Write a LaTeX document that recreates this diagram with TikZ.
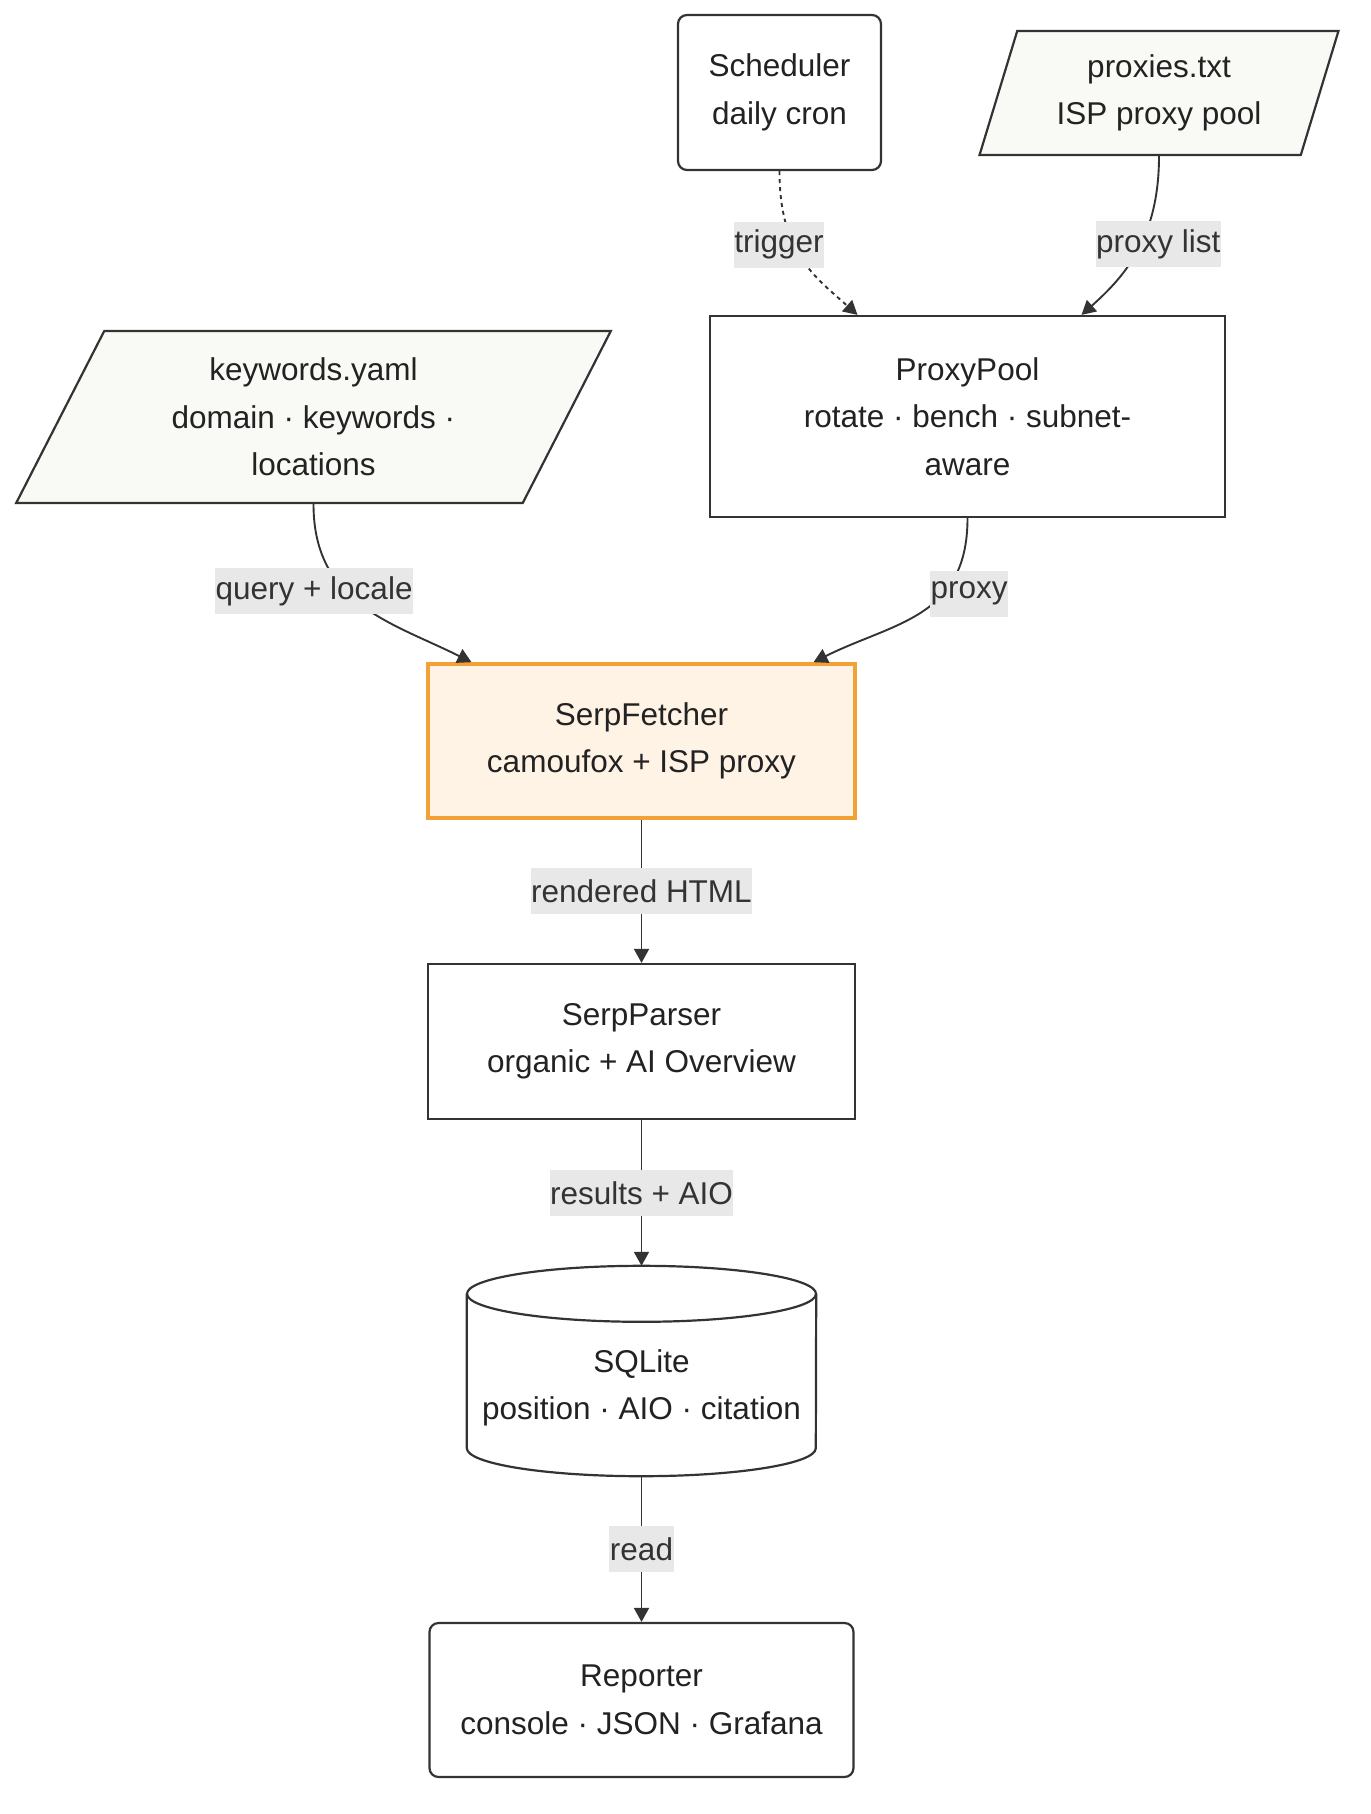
\documentclass[tikz,border=0pt]{standalone}
\usepackage{fontspec}
\setmainfont{Liberation Sans}
\usepackage{xcolor}
\usepackage{tikz}
\usetikzlibrary{arrows.meta,shapes.geometric,positioning}
\definecolor{edgegray}{HTML}{333333}
\definecolor{nodetext}{HTML}{222222}
\definecolor{databg}{HTML}{F9F9F5}
\definecolor{fetchbg}{HTML}{FFF3E5}
\definecolor{fetchline}{HTML}{F2A234}
\definecolor{lblbg}{HTML}{E8E8E8}

\begin{document}
\begin{tikzpicture}[x=1pt,y=1pt,>={Triangle[length=14pt,width=15pt]},
    every node/.style={font=\fontsize{31.5}{47.5}\selectfont,text=nodetext,align=center},
    proc/.style={draw=edgegray,line width=2.2pt,fill=white,inner sep=0pt},
    iofile/.style={trapezium,trapezium stretches=true,draw=edgegray,line width=2.2pt,fill=databg,inner sep=0pt},
    flow/.style={->,draw=edgegray,line width=1.9pt},
    lbl/.style={fill=lblbg,text=edgegray,inner xsep=0.5pt,inner ysep=0pt,minimum height=46pt}]
      \useasboundingbox (0,0) rectangle (1370,-1814);
      % sources
      \node[proc,rounded corners=9pt,minimum width=203pt,minimum height=155pt] (sched) at (779.5,-92.5) {Scheduler\\daily cron};
      \node[iofile,trapezium left angle=70.5,trapezium right angle=109.5,minimum width=360pt,minimum height=124pt] (plist) at (1159,-93) {proxies.txt\\ISP proxy pool};
      \node[proc,minimum width=515pt,minimum height=201pt] (pool) at (967.5,-416.5) {ProxyPool\\rotate · bench · subnet-\\aware};
      \node[iofile,trapezium left angle=63.2,trapezium right angle=116.8,minimum width=597pt,minimum height=172pt] (kw) at (313.5,-417) {keywords.yaml\\domain · keywords ·\\locations};
      % pipeline
      \node[proc,draw=fetchline,fill=fetchbg,line width=3.6pt,minimum width=427pt,minimum height=154pt] (fetch) at (641.5,-741) {SerpFetcher\\camoufox + ISP proxy};
      \node[proc,minimum width=427pt,minimum height=155pt] (parser) at (641.5,-1041.5) {SerpParser\\organic + AI Overview};
      \node[inner sep=0pt,minimum width=349pt,minimum height=210pt] (db) at (641.5,-1371) {};
      \draw[proc] ([yshift=-28pt]db.north west) -- ([yshift=28pt]db.south west)
        arc[start angle=180,end angle=360,x radius=174.5pt,y radius=28pt] -- ([yshift=-28pt]db.north east);
      \draw[proc] ([yshift=-28pt]db.north) ellipse[x radius=174.5pt,y radius=28pt];
      \node (dbtext) at ([yshift=-17pt]db.center) {SQLite\\position · AIO · citation};
      \node[proc,rounded corners=9pt,minimum width=424pt,minimum height=154pt] (report) at (641.5,-1700) {Reporter\\console · JSON · Grafana};
      % edges
      \draw[flow,dash pattern=on 4pt off 4pt] (sched.south) .. controls +(0,-80) and +(-45,40) .. ([xshift=-110pt]pool.north)
        node[lbl,pos=0.4,xshift=-15pt]{trigger};
      \draw[flow] (plist.center |- plist.south) .. controls +(0,-80) and +(45,40) .. ([xshift=114pt]pool.north)
        node[lbl,pos=0.46,xshift=18pt]{proxy list};
      \draw[flow] (kw.center |- kw.south) .. controls +(0,-100) and +(-80,40) .. ([xshift=-170pt]fetch.north)
        node[lbl,pos=0.4,xshift=-32pt]{query + locale};
      \draw[flow] (pool.south) .. controls +(0,-100) and +(80,40) .. ([xshift=172pt]fetch.north)
        node[lbl,pos=0.35,xshift=26pt]{proxy};
      \draw[flow] (fetch) -- (parser) node[lbl,midway]{rendered HTML};
      \draw[flow] (parser) -- (db) node[lbl,midway]{results + AIO};
      \draw[flow] (db) -- (report) node[lbl,midway]{read};
\end{tikzpicture}
\end{document}
